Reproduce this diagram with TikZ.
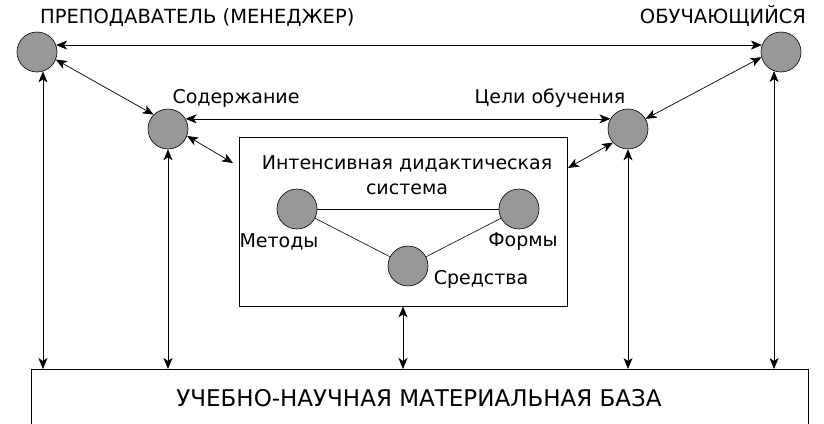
\documentclass[tikz,border=0pt]{standalone}
\usepackage{fontspec}
\setmainfont{DejaVu Sans}
\usetikzlibrary{arrows.meta}
\definecolor{dotgray}{RGB}{152,152,152}
\tikzset{
  pt/.style={circle, draw, fill=dotgray, minimum size=40pt, inner sep=0pt, line width=0.6pt},
  link/.style={{Stealth[length=11pt,width=9pt,inset=3pt]}-{Stealth[length=11pt,width=9pt,inset=3pt]}, line width=0.7pt},
  caps/.style={inner sep=0pt, font=\fontsize{19.5}{21}\selectfont},
  lbl/.style={inner sep=0pt, font=\fontsize{19}{25}\selectfont},
}
\begin{document}
\begin{tikzpicture}[x=1pt,y=-1pt]
	\useasboundingbox (0,0) rectangle (824,423);
	%\draw[help lines] (0,0) grid[step=50] (824,423);
	\node[pt] (teacher) at (37,52) {};
	\node[pt] (student) at (781,52) {};
	\node[pt] (content) at (168,129) {};
	\node[pt] (goals) at (628,129) {};
	\node[caps, anchor=west] (teacherlbl) at (40,18) {ПРЕПОДАВАТЕЛЬ (МЕНЕДЖЕР)};
	\node[caps] (studentlbl) at (723,16) {ОБУЧАЮЩИЙСЯ};
	\node[lbl] (contentlbl) at (236,98) {Содержание};
	\node[lbl] (goalslbl) at (550,98) {Цели обучения};
	% intensive system
	\node[draw, line width=0.7pt, minimum width=328pt, minimum height=169pt, inner sep=0pt] (sys) at (403,221.5) {};
	\node[lbl, align=center] (systitle) at (407,175) {Интенсивная дидактическая\\система};
	\node[pt] (methods) at (297,209) {};
	\node[pt] (forms) at (519,209) {};
	\node[pt] (means) at (408,266) {};
	\node[lbl] (methodslbl) at (279,242) {Методы};
	\node[lbl] (formslbl) at (523,242) {Формы};
	\node[lbl] (meanslbl) at (481,279) {Средства};
	\draw[line width=0.6pt] (methods) -- (forms);
	\draw[line width=0.6pt] (methods) -- (means);
	\draw[line width=0.6pt] (means) -- (forms);
	% base
	\node[draw, line width=0.7pt, anchor=north west, minimum width=777pt, minimum height=80pt, inner sep=0pt] (base) at (31,369) {};
	\node[inner sep=0pt, font=\fontsize{23}{25}\selectfont] (baselbl) at (419,398) {УЧЕБНО-НАУЧНАЯ МАТЕРИАЛЬНАЯ БАЗА};
	\coordinate (sysL) at (233,163);
	\coordinate (sysR) at (568,168);
	% links
	\draw[link] (teacher.20) -- (student.160);
	\draw[link] (content.30) -- (goals.150);
	\draw[link] (teacher.-22) -- (content.135);
	\draw[link] (student.195) -- (goals.30);
	\draw[link] (content.-20) -- (sysL);
	\draw[link] (goals.222) -- (sysR);
	\draw[link] (teacher.-73) -- (teacher.-73 |- base.north);
	\draw[link] (content) -- (content |- base.north);
	\draw[link] (sys) -- (sys |- base.north);
	\draw[link] (goals) -- (goals |- base.north);
	\draw[link] (student.-110) -- (student.-110 |- base.north);
\end{tikzpicture}
\end{document}
